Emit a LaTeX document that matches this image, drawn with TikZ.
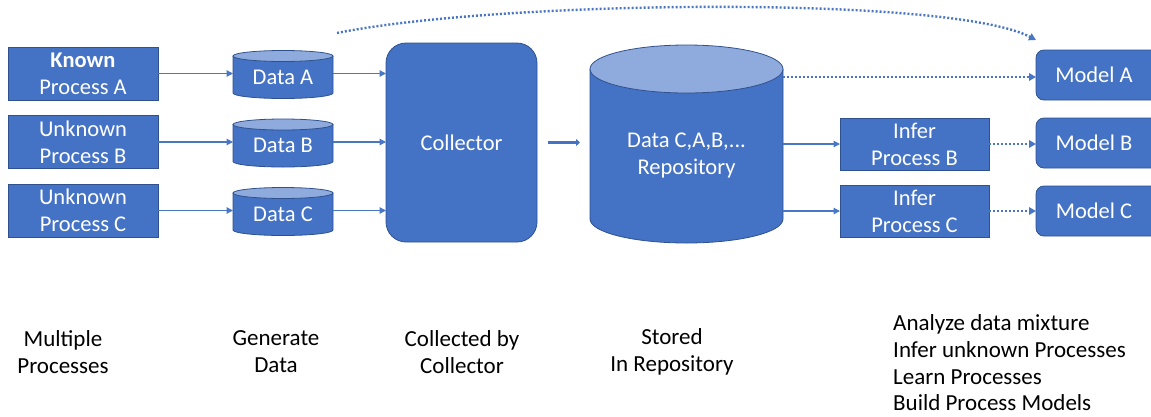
\documentclass[tikz,border=0pt]{standalone}
\usepackage{fontspec}
\setmainfont{Carlito}
\usetikzlibrary{arrows.meta,backgrounds}

\definecolor{officeblue}{HTML}{4472C4}
\definecolor{edgeblue}{HTML}{2F528F}
\definecolor{topblue}{HTML}{8FAADC}
\definecolor{linkblue}{HTML}{4A76C6}

\tikzset{
  boxtext/.style={text=white, align=center, inner sep=0pt, outer sep=0pt,
    font=\fontsize{22.5}{27}\selectfont},
  procbox/.style={boxtext, rectangle, fill=officeblue, draw=edgeblue, line width=0.8pt},
  collbox/.style={procbox, rounded corners=20pt},
  modelbox/.style={procbox, rounded corners=8pt},
  dbnode/.style={boxtext, rectangle, draw=none},
  caption/.style={align=center, inner sep=0pt, text=black,
    font=\fontsize{23}{27}\selectfont},
  flow/.style={draw=linkblue, line width=1.2pt,
    -{Triangle[length=6.5pt,width=6.5pt]}},
  fatflow/.style={draw=officeblue, line width=3.6pt,
    -{Triangle[length=4pt,width=7pt]}},
  dotflow/.style={draw=linkblue, line width=2.4pt, dash pattern=on 2pt off 2pt,
    -{Triangle[length=7pt,width=7.5pt]}},
}

% cylinder around a node: body from the node's top edge down, top ellipse on the top edge
\newcommand\dbcyl[3]{%
  \filldraw[fill=officeblue, draw=edgeblue, line width=0.8pt]
    (#1.north west) -- ([yshift=#3]#1.south west)
    arc[start angle=180, end angle=360, x radius=#2, y radius=#3]
    -- (#1.north east);
  \filldraw[fill=topblue, draw=edgeblue, line width=0.8pt]
    (#1.north) ellipse[x radius=#2, y radius=#3];
}

\begin{document}
\begin{tikzpicture}[x=1pt, y=1pt]
  \useasboundingbox (0,0) rectangle (1151,-416);

  % processes
  \node[procbox, minimum width=150pt, minimum height=53pt] (pA) at (83,-73.5)
    {\textbf{Known}\\Process A};
  \node[procbox, minimum width=150pt, minimum height=53pt] (pB) at (83,-142)
    {Unknown\\Process B};
  \node[procbox, minimum width=150pt, minimum height=53pt] (pC) at (83,-210.5)
    {Unknown\\Process C};

  % data stores
  \node[dbnode, minimum width=100pt, minimum height=42.5pt] (dA) at (283,-77.25) {Data A};
  \node[dbnode, minimum width=100pt, minimum height=42.5pt] (dB) at (283,-145.75) {Data B};
  \node[dbnode, minimum width=100pt, minimum height=42.5pt] (dC) at (283,-214.25) {Data C};

  % collector
  \node[collbox, minimum width=151pt, minimum height=199pt] (col) at (461.5,-142.5) {Collector};

  % repository
  \node[dbnode, minimum width=193pt, minimum height=174pt] (repo) at (686.5,-156)
    {Data C,A,B,...\\Repository};

  % inference
  \node[procbox, minimum width=149pt, minimum height=52pt] (iB) at (914.5,-144)
    {Infer\\Process B};
  \node[procbox, minimum width=149pt, minimum height=52pt] (iC) at (914.5,-211)
    {Infer\\Process C};

  % models (running past the right edge)
  \node[modelbox, minimum width=140pt, minimum height=50pt] (mA) at (1106,-75) {\hspace*{-24pt}Model A};
  \node[modelbox, minimum width=140pt, minimum height=50pt] (mB) at (1106,-143) {\hspace*{-24pt}Model B};
  \node[modelbox, minimum width=140pt, minimum height=50pt] (mC) at (1106,-211) {\hspace*{-24pt}Model C};

  \begin{scope}[on background layer]
    \dbcyl{dA}{50pt}{5.5pt}
    \dbcyl{dB}{50pt}{5.5pt}
    \dbcyl{dC}{50pt}{5.5pt}
    \dbcyl{repo}{96.5pt}{24pt}
  \end{scope}

  % connectors
  \draw[flow] (pA.east) -- (pA.east -| dA.west);
  \draw[flow] (pB.east) -- (pB.east -| dB.west);
  \draw[flow] (pC.east) -- (pC.east -| dC.west);
  \draw[flow] (dA.east |- pA.east) -- (pA.east -| col.west);
  \draw[flow] (dB.east |- pB.east) -- (pB.east -| col.west);
  \draw[flow] (dC.east |- pC.east) -- (pC.east -| col.west);
  \draw[fatflow, shorten <=11pt, shorten >=10pt] (col.east) -- (col.east -| repo.west);
  \draw[flow] (repo.east |- iB.west) -- (iB.west);
  \draw[flow] (repo.east |- iC.west) -- (iC.west);
  \draw[dotflow] ([yshift=-2pt]repo.east |- mA.west) -- ([yshift=-2pt]mA.west);
  \draw[dotflow] (iB.east) -- (iB.east -| mB.west);
  \draw[dotflow] (iC.east) -- (iC.east -| mC.west);

  \coordinate (arcstart) at (337,-33);
  \draw[dotflow] (arcstart) .. controls (500,0) and (950,5) .. ([yshift=10pt]mA.north west);

  % captions
  \node[caption] (c1) at (63,-352) {Multiple\\Processes};
  \node[caption] (c2) at (276,-352) {Generate\\Data};
  \node[caption] (c3) at (462,-352) {Collected by\\Collector};
  \node[caption] (c4) at (672,-352) {Stored\\In Repository};
  \node[caption, align=left, anchor=west, font=\fontsize{23}{26.7}\selectfont] (c5) at (893,-363)
    {Analyze data mixture\\Infer unknown Processes\\Learn Processes\\Build Process Models};
\end{tikzpicture}
\end{document}
